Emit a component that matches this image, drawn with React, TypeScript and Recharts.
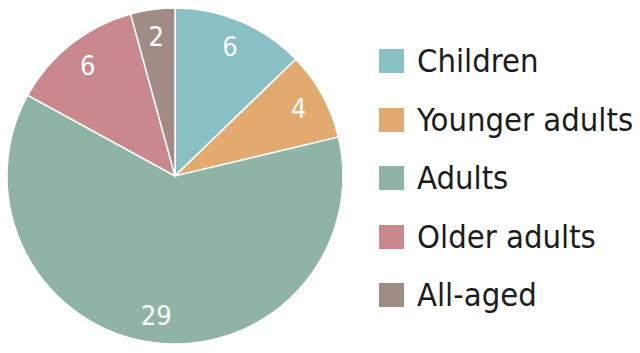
import { PieChart, Pie, Cell } from 'recharts';

const categories = ['Children', 'Younger adults', 'Adults', 'Older adults', 'All-aged'];
const counts = [6, 4, 29, 6, 2];
const colors = ['#89c0c5', '#e3aa70', '#8fb3a4', '#c9878e', '#a08c85'];

const data = categories.map((name, i) => ({ name, value: counts[i] }));

const RAD = Math.PI / 180;
const FONT = '"DejaVu Sans Condensed", "DejaVu Sans", sans-serif';

const renderLabel = ({ cx, cy, midAngle, value }: any) => {
  const r = 141;
  const x = cx + r * Math.cos(-midAngle * RAD);
  const y = cy + r * Math.sin(-midAngle * RAD);
  return (
    <text x={x} y={y} fill="#fff" fontSize={27} fontFamily={FONT} textAnchor="middle" dominantBaseline="central">
      {value}
    </text>
  );
};

export default function App() {
  return (
    <div style={{ position: 'absolute', left: 0, top: 0, width: 640, height: 353, background: '#fff' }}>
      <PieChart width={640} height={353} margin={{ top: 0, right: 0, bottom: 0, left: 0 }}>
        <Pie
          data={data}
          dataKey="value"
          nameKey="name"
          cx={175}
          cy={176}
          outerRadius={168}
          startAngle={90}
          endAngle={-270}
          stroke="#fff"
          strokeWidth={1.5}
          label={renderLabel}
          labelLine={false}
          isAnimationActive={false}
        >
          {data.map((_, i) => (
            <Cell key={i} fill={colors[i]} />
          ))}
        </Pie>
      </PieChart>
      <div style={{ position: 'absolute', left: 379, top: 32, width: 261, fontFamily: FONT }}>
        {categories.map((c, i) => (
          <div key={c} style={{ display: 'flex', alignItems: 'center', height: 58.5 }}>
            <span style={{ width: 25, height: 24, background: colors[i], display: 'inline-block', marginRight: 13, flexShrink: 0 }} />
            <span style={{ fontSize: 32.5, color: '#1c1c1c', whiteSpace: 'nowrap' }}>{c}</span>
          </div>
        ))}
      </div>
    </div>
  );
}
